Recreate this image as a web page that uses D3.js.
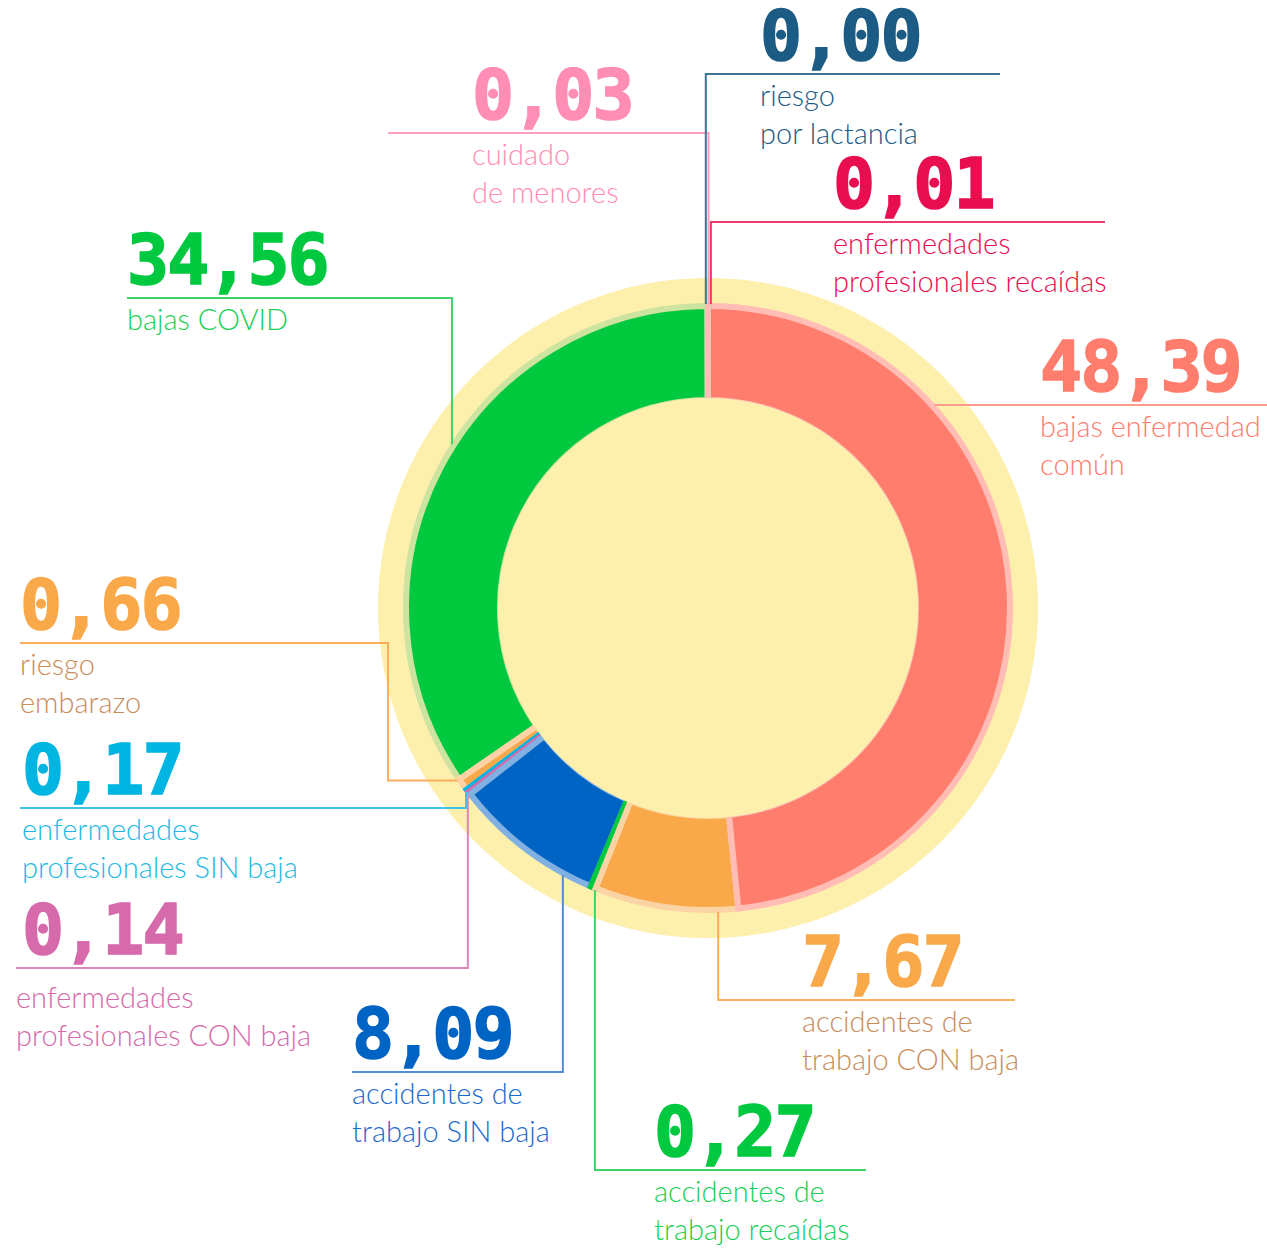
<!DOCTYPE html>
<html>
<head>
<meta charset="utf-8">
<script src="https://cdn.jsdelivr.net/npm/d3@7"></script>
<style>
  html, body { margin: 0; padding: 0; background: #fff; }
  svg { display: block; }
  .num { font-family: "DejaVu Sans Mono", monospace; font-weight: bold; font-size: 70px; letter-spacing: -2px; stroke-width: 1.6px; }
  .lbl { font-family: Lato, "Open Sans", sans-serif; font-weight: 300; font-size: 29px; }
</style>
</head>
<body>
<script>
// share of each type of leave, in % (order = clockwise from 12 o'clock)
const categories = [
  "bajas enfermedad común",
  "accidentes de trabajo CON baja",
  "accidentes de trabajo recaídas",
  "accidentes de trabajo SIN baja",
  "enfermedades profesionales CON baja",
  "enfermedades profesionales SIN baja",
  "riesgo embarazo",
  "bajas COVID",
  "cuidado de menores",
  "riesgo por lactancia",
  "enfermedades profesionales recaídas"
];
const values = [48.39, 7.67, 0.27, 8.09, 0.14, 0.17, 0.66, 34.56, 0.03, 0.00, 0.01];
const labelLines = [
  ["bajas enfermedad", "común"],
  ["accidentes de", "trabajo CON baja"],
  ["accidentes de", "trabajo recaídas"],
  ["accidentes de", "trabajo SIN baja"],
  ["enfermedades", "profesionales CON baja"],
  ["enfermedades", "profesionales SIN baja"],
  ["riesgo", "embarazo"],
  ["bajas COVID"],
  ["cuidado", "de menores"],
  ["riesgo", "por lactancia"],
  ["enfermedades", "profesionales recaídas"]
];

// styles
const colors     = ["#FF7D6D", "#F9A94A", "#00C940", "#0064C4", "#D66AAB", "#00B5E1", "#F9A94A", "#00C940", "#FF8DB5", "#1B5B84", "#E80E50"];
const haloColors = ["#FFBDB5", "#FCD3A5", "#00C940", "#80B1E2", "#D66AAB", "#00B5E1", "#FDD2A6", "#CDE3A0", "#FFC6DA", "#8DADC2", "#F487A8"];
const textColors = ["#FF7D6D", "#C98D5C", "#19CF55", "#1A6ACB", "#D66AAB", "#1DB9E2", "#C98D5C", "#19CF55", "#FF8DB5", "#1B5B84", "#E80E50"];
const lineColors = ["#FF9C8E", "#FBAE5C", "#3DD56A", "#4F8ED3", "#DC84B9", "#3EC3E6", "#FBAE5C", "#3DD56A", "#FFA0C2", "#3C7396", "#EE3A6E"];

// label layout: attach point (fraction t inside slice), leader shape, underline y/end, text x
const layout = [
  { t: 0.276, kind: "h",   x2: 1267, tx: 1040 },
  { t: 0.14,  kind: "v",   lineY: 1000, x2: 1015, tx: 802 },
  { t: 0.0,   kind: "v",   lineY: 1170, x2: 866,  tx: 654 },
  { t: 0.196, kind: "v",   lineY: 1072, x2: 352,  tx: 352 },
  { t: 0.5,   kind: "v",   lineY: 968,  x2: 16,   tx: 16, nx: 22, ly: 40 },
  { t: 0.5,   kind: "v",   lineY: 808,  x2: 20,   tx: 22 },
  { t: 1.0,   kind: "hvh", elbowX: 388, lineY: 643, x2: 20, tx: 20 },
  { t: 0.54,  kind: "v",   lineY: 298,  x2: 127,  tx: 127 },
  { t: 0.5,   kind: "v",   lineY: 133,  x2: 388,  tx: 472, dx: 1 },
  { t: 0.5,   kind: "v",   lineY: 74,   x2: 1000, tx: 760, dx: -2 },
  { t: 0.5,   kind: "v",   lineY: 222,  x2: 1105, tx: 833, dx: 3 }
];

const width = 1267, height = 1248;
const cx = 708, cy = 608;
const rBack = 330, rOuter = 302, rInner = 208, rHole = 210, rAttach = 304;

const svg = d3.select("body").append("svg")
  .attr("width", width)
  .attr("height", height)
  .attr("viewBox", [0, 0, width, height]);

const g = svg.append("g").attr("transform", `translate(${cx},${cy})`);

const data = values.map((v, i) => ({ i, name: categories[i], value: v }));
const pie = d3.pie().sort(null).value(d => d.value);
const arcs = pie(data);
const arc = d3.arc().innerRadius(rInner).outerRadius(rOuter);

// yellow backing disc
g.append("circle").attr("r", rBack).attr("fill", "#FDEFAC");

// slices, last one first so the first slices' light edges sit on top
g.append("g")
  .selectAll("path")
  .data(arcs.slice().reverse())
  .join("path")
  .attr("d", arc)
  .attr("fill", d => colors[d.data.i])
  .attr("stroke", d => haloColors[d.data.i])
  .attr("stroke-width", 6)
  .attr("stroke-linejoin", "miter");

// inner hole
g.append("circle").attr("r", rHole).attr("fill", "#FDEFAC");

const fmt = v => d3.format(".2f")(v).replace(".", ",");

// leaders + labels
const ann = svg.append("g");
arcs.forEach(a => {
  const i = a.data.i;
  const L = layout[i];
  const ang = a.startAngle + (a.endAngle - a.startAngle) * L.t;
  const px = cx + rAttach * Math.sin(ang) + (L.dx || 0);
  const py = cy - rAttach * Math.cos(ang);
  let path, lineY;
  if (L.kind === "h") {
    lineY = py;
    path = `M${px},${py}H${L.x2}`;
  } else if (L.kind === "hvh") {
    lineY = L.lineY;
    path = `M${px},${py}H${L.elbowX}V${lineY}H${L.x2}`;
  } else {
    lineY = L.lineY;
    path = `M${px},${py}V${lineY}H${L.x2}`;
  }
  ann.append("path")
    .attr("d", path)
    .attr("fill", "none")
    .attr("stroke", lineColors[i])
    .attr("stroke-width", 2);

  ann.append("text")
    .attr("class", "num")
    .attr("x", L.nx || L.tx)
    .attr("y", lineY - 14)
    .attr("fill", colors[i])
    .attr("stroke", colors[i])
    .text(fmt(a.data.value));

  const t = ann.append("text")
    .attr("class", "lbl")
    .attr("fill", textColors[i]);
  labelLines[i].forEach((s, k) => {
    t.append("tspan")
      .attr("x", L.tx)
      .attr("y", lineY + (L.ly || 32) + k * 38)
      .text(s);
  });
});
</script>
</body>
</html>
